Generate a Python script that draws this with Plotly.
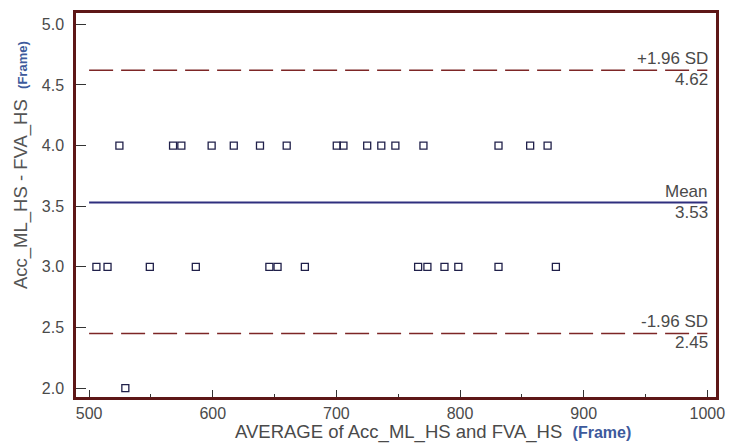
import plotly.graph_objects as go

# Bland-Altman data: average of the two methods vs. their difference (frames)
avg_diff4 = [524.5, 567.9, 574.6, 599.1, 617.0, 638.2, 659.8, 700.3, 705.7,
             724.9, 736.3, 747.7, 770.4, 831.1, 856.7, 870.8]
avg_diff3 = [505.9, 514.9, 549.1, 586.3, 645.8, 652.4, 674.5, 766.1, 773.6,
             787.4, 798.6, 831.1, 877.5]
avg_diff2 = [529.3]

mean_diff = 3.53
upper_loa = 4.62
lower_loa = 2.45
line_span = [500, 1000]

x_ticks = [500, 600, 700, 800, 900, 1000]
y_ticks = [2.0, 2.5, 3.0, 3.5, 4.0, 4.5, 5.0]

FONT = "Arial, Liberation Sans, sans-serif"
MAROON = "#5e1717"
SD_COL = "#7d2626"
MEAN_COL = "#2f2f7e"
MARK_COL = "#20204a"
TXT = "#4a4a4a"
BLUE = "#3d5a9c"

xs = avg_diff4 + avg_diff3 + avg_diff2
ys = [4.0] * len(avg_diff4) + [3.0] * len(avg_diff3) + [2.0] * len(avg_diff2)

fig = go.Figure()

fig.add_trace(go.Scatter(
    x=line_span, y=[upper_loa] * 2, mode="lines",
    line=dict(color=SD_COL, width=1.5, dash="24px,8px"), hoverinfo="skip"))
fig.add_trace(go.Scatter(
    x=line_span, y=[lower_loa] * 2, mode="lines",
    line=dict(color=SD_COL, width=1.5, dash="24px,8px"), hoverinfo="skip"))
fig.add_trace(go.Scatter(
    x=line_span, y=[mean_diff] * 2, mode="lines",
    line=dict(color=MEAN_COL, width=2), hoverinfo="skip"))

fig.add_trace(go.Scatter(
    x=xs, y=ys, mode="markers",
    marker=dict(symbol="square-open", size=7, color=MARK_COL,
                line=dict(color=MARK_COL, width=1.3))))

# Labels for the reference lines
for name, val in [("+1.96 SD", upper_loa), ("Mean", mean_diff), ("-1.96 SD", lower_loa)]:
    fig.add_annotation(x=line_span[1], y=val, xref="x", yref="y", text=name,
                       showarrow=False, xanchor="right", yanchor="bottom",
                       xshift=3, yshift=0, font=dict(family=FONT, size=17, color=TXT))
    fig.add_annotation(x=line_span[1], y=val, xref="x", yref="y", text=f"{val:.2f}",
                       showarrow=False, xanchor="right", yanchor="top",
                       xshift=3, yshift=2, font=dict(family=FONT, size=17, color=TXT))

# Axis titles
fig.add_annotation(
    xref="paper", yref="paper", x=0.558, y=-0.09, xanchor="center", yanchor="middle",
    showarrow=False,
    text=("AVERAGE of Acc_ML_HS and FVA_HS  "
          f"<span style='color:{BLUE};font-size:16px'><b>(Frame)</b></span>"),
    font=dict(family=FONT, size=18.5, color=TXT))
fig.add_annotation(
    xref="paper", yref="paper", x=-0.085, y=0.603, xanchor="center", yanchor="middle",
    showarrow=False, textangle=-90,
    text=("Acc_ML_HS - FVA_HS  "
          f"<span style='color:{BLUE};font-size:13px'><b>(Frame)</b></span>"),
    font=dict(family=FONT, size=18.5, color="#555555"))

fig.update_layout(
    width=735, height=443,
    margin=dict(l=76, r=11, t=10, b=46),
    paper_bgcolor="white", plot_bgcolor="white",
    showlegend=False,
    font=dict(family=FONT, color=TXT),
)

fig.update_xaxes(
    range=[489.4, 1007], tickvals=x_ticks, ticktext=[str(v) for v in x_ticks],
    ticks="inside", ticklen=7, tickwidth=1, tickcolor="#333",
    minor=dict(dtick=50, tick0=500, ticks="inside", ticklen=3, tickcolor="#333"),
    showgrid=False, zeroline=False,
    showline=True, linecolor=MAROON, linewidth=2.5, mirror=True,
    tickfont=dict(family=FONT, size=16, color=TXT),
)
fig.update_yaxes(
    range=[1.926, 5.093], tickvals=y_ticks, ticktext=[f"{v:.1f}" for v in y_ticks],
    ticks="inside", ticklen=10, tickwidth=1, tickcolor="#333",
    showgrid=False, zeroline=False,
    showline=True, linecolor=MAROON, linewidth=2.5, mirror=True,
    ticklabelstandoff=6,
    tickfont=dict(family=FONT, size=16, color=TXT),
)

fig.write_html("out.html")
